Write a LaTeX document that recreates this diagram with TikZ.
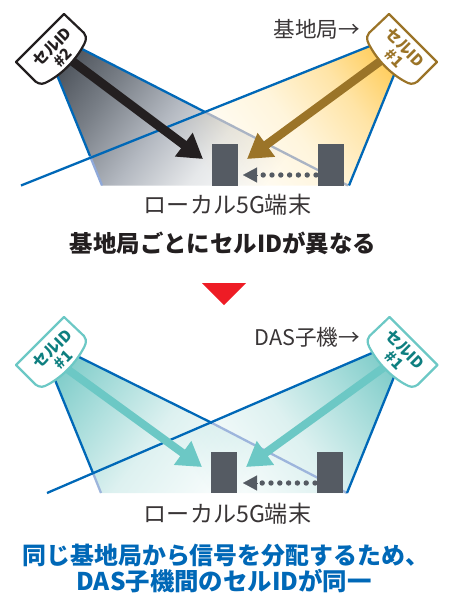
\documentclass[tikz,border=0pt]{standalone}
\usepackage{fontspec}
\setmainfont{Noto Sans CJK JP}
\usetikzlibrary{arrows.meta}
\definecolor{beamblue}{HTML}{0068B7}
\definecolor{ltgray}{HTML}{AAB4C4}
\definecolor{ltblue}{HTML}{8FA9DA}
\definecolor{ltblueb}{HTML}{9DB5DC}
\definecolor{termgray}{HTML}{555B63}
\definecolor{ink}{HTML}{231F20}
\definecolor{gold}{HTML}{9B7428}
\definecolor{teal}{HTML}{6CC8C5}
\definecolor{tealtext}{HTML}{0E7F80}
\definecolor{redtri}{HTML}{EE1C25}
\definecolor{gA}{HTML}{4A5058}
\definecolor{gB}{HTML}{797F87}
\definecolor{gC}{HTML}{B4B9C1}
\definecolor{gD}{HTML}{E6E8EA}
\definecolor{yA}{HTML}{FFCB55}
\definecolor{yB}{HTML}{FFE4A6}
\definecolor{yC}{HTML}{FFF5DC}
\definecolor{tA}{HTML}{7CCBC8}
\definecolor{tB}{HTML}{ABDEDC}
\definecolor{tC}{HTML}{DDF1F0}
\pgfdeclarehorizontalshading{fangray}{100bp}{color(0bp)=(gA); color(25bp)=(gA); color(37bp)=(gB); color(50bp)=(gC); color(62bp)=(gD); color(75bp)=(white); color(100bp)=(white)}
\pgfdeclarehorizontalshading{fangold}{100bp}{color(0bp)=(yA); color(25bp)=(yA); color(37bp)=(yB); color(50bp)=(yC); color(70bp)=(white); color(100bp)=(white)}
\pgfdeclarehorizontalshading{fanteal}{100bp}{color(0bp)=(tA); color(25bp)=(tA); color(37bp)=(tB); color(50bp)=(tC); color(72bp)=(white); color(100bp)=(white)}
\tikzset{
  x=1pt,y=-1pt,
  beamline/.style={beamblue,line width=2.3pt},
  fainta/.style={ltgray,line width=2.3pt},
  faintb/.style={ltblue,line width=2.3pt},
  faintc/.style={ltblueb,line width=2.3pt},
  terminal/.style={fill=termgray,draw=none},
  bigarrow/.style={line width=9pt,-{Triangle[length=24pt,width=28pt]}},
  dotarrow/.style={termgray,line width=5.4pt,line cap=round,dash pattern=on 0pt off 8.8pt},
  dothead/.style={termgray,line width=0.1pt,-{Triangle[length=14pt,width=15pt]}},
  plain/.style={font=\fontsize{23.1}{26}\selectfont,text=ink!90!white,inner sep=0pt},
  small/.style={font=\fontsize{21.6}{24}\selectfont,text=ink!90!white,inner sep=0pt},
  headline/.style={font=\bfseries\fontsize{23.4}{25}\selectfont,inner sep=0pt},
  tagtext/.style={font=\bfseries\fontsize{15.5}{15}\selectfont,align=center,inner sep=0pt},
}
\newcommand{\celltag}[9]{% name, dx, dy, xscale, border, text colour, rotation, text position, text
  \begin{scope}[shift={(#2,#3)},xscale=#4]
    \draw[draw=#5,fill=white,line width=2.2pt,line join=round]
      (16,62) -- (64,14) -- (84,33) .. controls (88,38) and (85,43) .. (82,48)
      .. controls (74,62) and (60,76) .. (45,83) .. controls (41,85) and (36,83) .. (33,79) -- cycle;
    \node[tagtext,text=#6,rotate=#7] (#1) at (#8) {#9};
  \end{scope}}
\newcommand{\fanfill}[6]{% polygon, shading, centre, angle, x0, x1
  \begin{scope}
    \clip #1;
    \begin{scope}[transform canvas={rotate around={#4:(#3)}}]
      \shade[shading=#2,blend mode=multiply] (#5,-400) rectangle (#6,1000);
    \end{scope}
  \end{scope}}
\begin{document}
\begin{tikzpicture}
\useasboundingbox (0,0) rectangle (448,597);
% ---------- upper panel
\coordinate (a1) at (57,75);
\coordinate (a2) at (82,49);
\coordinate (a3) at (102,185.5);
\coordinate (a4) at (348,185.5);
\coordinate (a5) at (90,156);
\coordinate (a6) at (205,112);
\coordinate (b1) at (370,46);
\coordinate (b2) at (394,75);
\coordinate (b3) at (349,185.5);
\coordinate (b4) at (21,185.5);
\fanfill{(a1) -- (a3) -- (a4) -- (a2) -- cycle}{fangray}{60,60}{-37}{60}{300}
\fanfill{(b1) -- (b2) -- (b3) -- (b4) -- cycle}{fangold}{392,60}{-143}{392}{632}
\draw[faintb] (a5) -- (a3);
\draw[fainta] (a6) -- (a4);
\draw[beamline] (a1) -- (a5);
\draw[beamline] (a2) -- (a6);
\draw[beamline] (b1) -- (b4);
\draw[beamline] (b2) -- (b3);
\node[terminal,minimum width=26pt,minimum height=41.5pt,inner sep=0pt] (ue1) at (225,164.75) {};
\node[terminal,minimum width=26pt,minimum height=41.5pt,inner sep=0pt] (ue2) at (331,164.75) {};
\coordinate (s1) at (52,46);
\coordinate (t1) at (203,159);
\coordinate (s2) at (401,46);
\coordinate (t2) at (247,159);
\draw[bigarrow,ink] (s1) -- (t1);
\draw[bigarrow,gold,line width=8.5pt] (s2) -- (t2);
\coordinate (d1) at (316,175);
\coordinate (d2) at (257,175);
\coordinate (d3) at (243,175);
\draw[dotarrow] (d1) -- (d2);
\draw[dothead] (d2) -- (d3);
\celltag{tagA}{0}{0}{1}{ink}{ink}{45}{57,52}{セルID\\\#2}
\celltag{tagB}{453}{0}{-1}{gold}{gold}{-45}{53,52.5}{セルID\\\#1}
\node[small,anchor=east] (lblA) at (360,29.5) {基地局→};
\node[plain] (lblB) at (227.5,205) {ローカル5G端末};
\node[headline,text=ink] (titleA) at (223,243.5) {基地局ごとにセルIDが異なる};
\fill[redtri] (202,283) -- (246,283) -- (224,305) -- cycle;
% ---------- lower panel
\coordinate (c1) at (55,380);
\coordinate (c2) at (79,357);
\coordinate (c3) at (101,493);
\coordinate (c4) at (347,493);
\coordinate (c5) at (93,473);
\coordinate (c6) at (212,423);
\coordinate (e1) at (372,353);
\coordinate (e2) at (394,377);
\coordinate (e3) at (347,493);
\coordinate (e4) at (47,493);
\fanfill{(c1) -- (c3) -- (c4) -- (c2) -- cycle}{fanteal}{60,363}{-37}{60}{300}
\fanfill{(e1) -- (e2) -- (e3) -- (e4) -- cycle}{fanteal}{392,363}{-143}{392}{632}
\draw[faintc] (c5) -- (c3);
\draw[faintc] (c6) -- (c4);
\draw[beamline] (c1) -- (c5);
\draw[beamline] (c2) -- (c6);
\draw[beamline] (e1) -- (e4);
\draw[beamline] (e2) -- (e3);
\node[terminal,minimum width=26pt,minimum height=41pt,inner sep=0pt] (ue3) at (224,472.5) {};
\node[terminal,minimum width=26pt,minimum height=41pt,inner sep=0pt] (ue4) at (330,472.5) {};
\coordinate (s3) at (52,358);
\coordinate (t3) at (202,467);
\coordinate (s4) at (401,355);
\coordinate (t4) at (246,467);
\draw[bigarrow,teal,line width=8pt] (s3) -- (t3);
\draw[bigarrow,teal,line width=8pt] (s4) -- (t4);
\coordinate (f1) at (315,483);
\coordinate (f2) at (257,483);
\coordinate (f3) at (243,483);
\draw[dotarrow] (f1) -- (f2);
\draw[dothead] (f2) -- (f3);
\celltag{tagC}{0}{303}{1}{teal}{tealtext}{45}{57.5,51}{セルID\\\#1}
\celltag{tagD}{453.5}{303}{-1}{teal}{tealtext}{-45}{53.5,51.5}{セルID\\\#1}
\node[small,anchor=east] (lblC) at (360,337) {DAS子機→};
\node[plain] (lblD) at (227.5,514) {ローカル5G端末};
\node[headline,text=beamblue,anchor=west,font=\bfseries\fontsize{23.9}{25}\selectfont] (titleB) at (22.5,556) {同じ基地局から信号を分配するため、};
\node[headline,text=beamblue,font=\bfseries\fontsize{24.4}{25}\selectfont] (titleC) at (224,581) {DAS子機間のセルIDが同一};
\end{tikzpicture}
\end{document}
